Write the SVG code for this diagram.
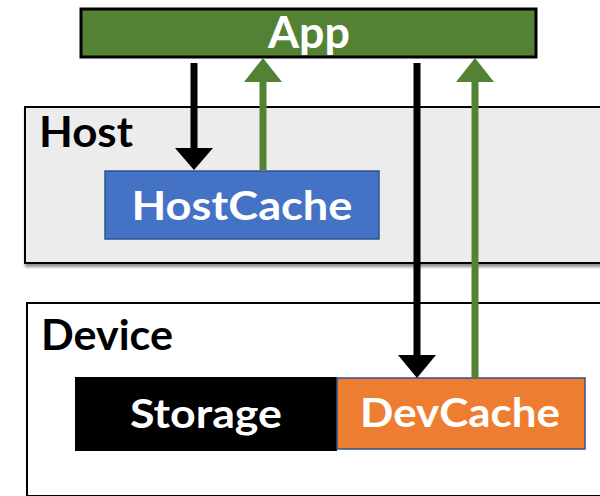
<svg xmlns="http://www.w3.org/2000/svg" width="600" height="496" viewBox="0 0 600 496">
  <defs>
    <style>
      .lbl { font-family: Lato, "Open Sans", "Liberation Sans", sans-serif; font-weight: 700; }
      .w { fill: #ffffff; }
      .k { fill: #000000; }
      .flow-k { stroke: #000000; stroke-width: 7; fill: none; }
      .flow-g { stroke: #548235; stroke-width: 7; fill: none; }
      .head-k { fill: #000000; }
      .head-g { fill: #548235; }
    </style>
    <filter id="shadow" x="-5%" y="-5%" width="110%" height="115%">
      <feGaussianBlur in="SourceAlpha" stdDeviation="1.5"/>
      <feOffset dx="1" dy="3" result="off"/>
      <feComponentTransfer><feFuncA type="linear" slope="0.45"/></feComponentTransfer>
      <feMerge><feMergeNode/><feMergeNode in="SourceGraphic"/></feMerge>
    </filter>
  </defs>

  <rect width="600" height="496" fill="#ffffff"/>

  <!-- host region -->
  <g id="host">
    <rect x="25" y="107" width="576" height="156" fill="#ececec" stroke="#000000" stroke-width="2" filter="url(#shadow)"/>
    <text class="lbl k" x="39" y="147" font-size="42" textLength="94" lengthAdjust="spacingAndGlyphs">Host</text>
  </g>

  <!-- device region -->
  <g id="device">
    <rect x="27" y="303" width="576" height="193" fill="#ffffff" stroke="#000000" stroke-width="2"/>
    <text class="lbl k" x="41" y="350" font-size="42" textLength="132" lengthAdjust="spacingAndGlyphs">Device</text>
  </g>

  <!-- application bar -->
  <g id="app">
    <rect x="81" y="9" width="455" height="48" fill="#548235" stroke="#000000" stroke-width="3"/>
    <text class="lbl w" x="309" y="48" font-size="43" text-anchor="middle" textLength="82" lengthAdjust="spacingAndGlyphs">App</text>
  </g>

  <g id="hostcache">
    <rect x="105" y="171" width="274" height="68" fill="#4472c4" stroke="#2f528f" stroke-width="1.5"/>
    <text class="lbl w" x="242" y="220" font-size="40" text-anchor="middle" textLength="221" lengthAdjust="spacingAndGlyphs">HostCache</text>
  </g>

  <g id="storage">
    <rect x="75" y="377" width="262" height="74" fill="#000000"/>
    <text class="lbl w" x="206" y="428" font-size="40" text-anchor="middle" textLength="152" lengthAdjust="spacingAndGlyphs">Storage</text>
  </g>

  <g id="devcache">
    <rect x="337" y="378" width="248" height="71" fill="#ed7d31" stroke="#2f528f" stroke-width="1.5"/>
    <text class="lbl w" x="460" y="427" font-size="40" text-anchor="middle" textLength="200" lengthAdjust="spacingAndGlyphs">DevCache</text>
  </g>

  <!-- connectors -->
  <g id="connectors">
    <line class="flow-k" x1="194" y1="63" x2="194" y2="150"/>
    <polygon class="head-k" points="175,148 213,148 194,170"/>

    <line class="flow-g" x1="263" y1="170" x2="263" y2="80"/>
    <polygon class="head-g" points="244,82 282,82 263,58"/>

    <line class="flow-k" x1="417" y1="63" x2="417" y2="357"/>
    <polygon class="head-k" points="398,355 436,355 417,378"/>

    <line class="flow-g" x1="475" y1="378" x2="475" y2="80"/>
    <polygon class="head-g" points="456,82 494,82 475,58"/>
  </g>
</svg>
